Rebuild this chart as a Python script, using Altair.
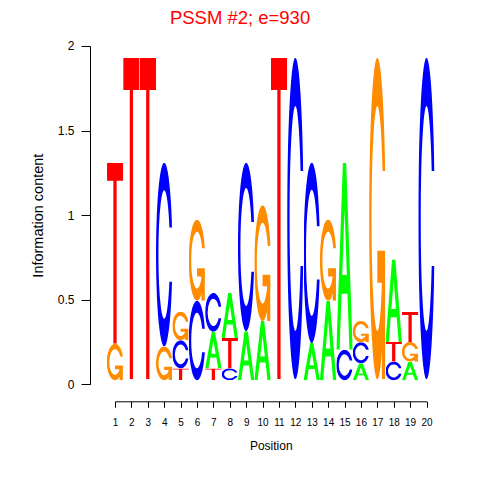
import base64
import altair as alt
import pandas as pd

# ---- data (bits per letter, positions 1..20) ----
positions = list(range(1, 21))
A_bits = [0.012, 0.010, 0.010, 0.012, 0.024, 0.012, 0.216, 0.266, 0.290, 0.350,
          0.010, 0.010, 0.220, 0.470, 1.106, 0.100, 0.010, 0.488, 0.110, 0.010]
C_bits = [0.012, 0.010, 0.010, 1.086, 0.166, 0.470, 0.230, 0.070, 0.996, 0.012,
          0.010, 1.900, 1.066, 0.012, 0.180, 0.125, 0.010, 0.110, 0.024, 1.900]
G_bits = [0.216, 0.010, 0.010, 0.200, 0.170, 0.480, 0.024, 0.024, 0.012, 0.684,
          0.010, 0.010, 0.012, 0.480, 0.012, 0.126, 1.900, 0.024, 0.116, 0.010]
T_bits = [1.070, 1.900, 1.900, 0.012, 0.070, 0.012, 0.070, 0.180, 0.012, 0.012,
          1.900, 0.010, 0.012, 0.012, 0.012, 0.024, 0.010, 0.116, 0.178, 0.010]
letters = ["A", "C", "G", "T"]
letter_colors = {"A": "#00FF00", "C": "#0000FF", "G": "#FF8C00", "T": "#FF0000"}
y_ticks = [0, 0.5, 1, 1.5, 2]
title_text = "PSSM #2; e=930"

# ---- glyph outlines (seqLogo style) in a 100x100 box ----
C_PATH = ("M97.77,64.78 A50,50 0 1 1 97.77,35.22 L81.72,35.22 "
          "A35,35 0 1 0 81.72,64.78 Z")
GLYPHS = {
    "A": ["M0,100 L40,0 L60,0 L100,100 L80,100 L68,70 L32,70 L20,100 Z "
          "M36,60 L50,25 L64,60 Z"],
    "C": [C_PATH],
    "G": [C_PATH, "M97.77,60 L50,60 L50,70 L77.77,70 L77.77,100 L97.77,100 Z"],
    "T": ["M0,0 L100,0 L100,10 L60,10 L60,100 L40,100 L40,10 L0,10 Z"],
}


def glyph_uri(letter):
    color = letter_colors[letter]
    body = "".join(
        f'<path d="{d}" fill="{color}" fill-rule="evenodd"/>' for d in GLYPHS[letter]
    )
    svg = ('<svg xmlns="http://www.w3.org/2000/svg" width="100" height="100" '
           f'viewBox="0 0 100 100" preserveAspectRatio="none">{body}</svg>')
    return "data:image/svg+xml;base64," + base64.b64encode(svg.encode()).decode()


uris = {L: glyph_uri(L) for L in letters}
bits = {"A": A_bits, "C": C_bits, "G": G_bits, "T": T_bits}

rows = []
for i, p in enumerate(positions):
    col = {L: bits[L][i] for L in letters}
    base = 0.0
    for L in sorted(letters, key=lambda l: col[l]):
        h = col[L]
        rows.append(dict(pos=p, letter=L, x0=p - 0.5, x1=p + 0.5,
                         y0=base, y1=base + h, h=h, url=uris[L]))
        base += h
df = pd.DataFrame(rows)

FONT = "Liberation Sans"

chart = alt.Chart(df).mark_image(aspect=False).encode(
    x=alt.X("x0:Q",
            scale=alt.Scale(domain=[1, 20], nice=False, zero=False),
            axis=alt.Axis(values=positions, format="d", title="Position",
                          labelFontSize=10, labelFont=FONT, labelColor="black",
                          labelFlush=False, labelOverlap=False, labelPadding=10,
                          tickSize=6, tickColor="black", domainColor="black",
                          offset=17, grid=False, titleFont=FONT, titleFontSize=12,
                          titleFontWeight="normal", titleColor="black",
                          titlePadding=13)),
    x2="x1:Q",
    y=alt.Y("y0:Q",
            scale=alt.Scale(domain=[0, 2], nice=False),
            axis=alt.Axis(values=y_ticks, format="~g", title="Information content",
                          labelFontSize=12, labelFont=FONT, labelColor="black",
                          labelAngle=0, labelPadding=7, labelFlush=False,
                          tickSize=9, tickColor="black", domainColor="black",
                          offset=25, grid=False, titleFont=FONT, titleFontSize=14.5,
                          titleFontWeight="normal", titleColor="black",
                          titlePadding=12)),
    y2="y1:Q",
    url="url:N",
    opacity=alt.condition(alt.datum.h < 0.03, alt.value(0), alt.value(1)),
).properties(
    width=311.5,
    height=338.3,
    title=alt.TitleParams(title_text, color="#FF0000", fontSize=18.5, font=FONT,
                          fontWeight="normal", anchor="middle", dx=-30.7,
                          offset=12),
    autosize=alt.AutoSizeParams(type="none"),
    padding={"left": 107, "top": 38, "right": 40, "bottom": 80},
).configure_view(stroke=None)

chart.save("out.html", embed_options={"renderer": "svg", "actions": False})
